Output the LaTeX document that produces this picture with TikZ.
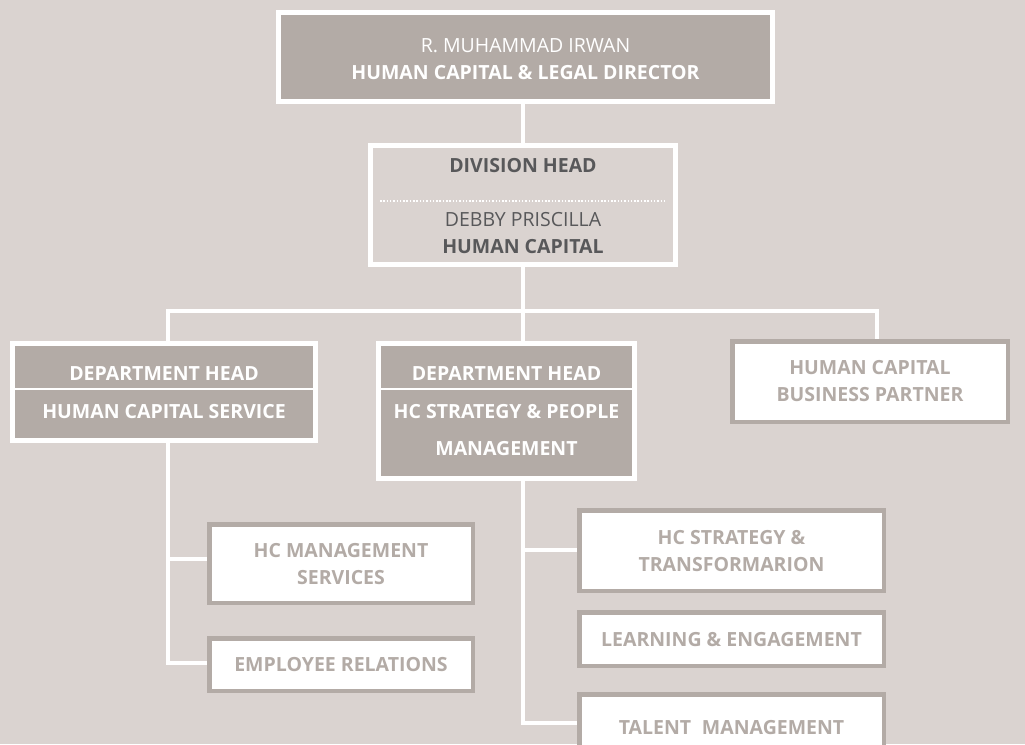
\documentclass[tikz,border=0pt]{standalone}
\usepackage{fontspec}
\setmainfont{Open Sans}
\definecolor{cbg}{HTML}{DAD3D0}
\definecolor{cdark}{HTML}{B3ABA6}
\definecolor{ctxt}{HTML}{58585A}
\pgfdeclarelayer{back}
\pgfdeclarelayer{lines}
\pgfsetlayers{back,lines,main}
\newcommand{\lblfont}{\fontsize{19.5}{22}\selectfont}
\tikzset{
  box/.style={rectangle, inner sep=0pt, outer sep=0pt, line width=5pt},
  darkbox/.style={box, draw=white, fill=cdark},
  openbox/.style={box, draw=white},
  lightbox/.style={box, draw=cdark, fill=white, line width=4.5pt},
  lbl/.style={inner sep=0pt, outer sep=0pt, font=\lblfont},
  wbold/.style={lbl, text=white, font=\lblfont\bfseries},
  wlight/.style={lbl, text=white},
  dbold/.style={lbl, text=ctxt, font=\lblfont\bfseries},
  dlight/.style={lbl, text=ctxt},
  gbold/.style={lbl, text=cdark, font=\lblfont\bfseries},
  link/.style={draw=white, line width=4pt, line join=miter},
  sepline/.style={draw=white, line width=2pt},
}
\begin{document}
\begin{tikzpicture}[x=1pt,y=-1pt]
\useasboundingbox (0,0) rectangle (1025,744);
\begin{pgfonlayer}{back}
  \fill[cbg] (0,0) rectangle (1025,744);
\end{pgfonlayer}

% top
\node[darkbox, minimum width=494, minimum height=89] (top) at (525.5,57) {};
\node[wlight] (topname) at (525.5,46) {R. MUHAMMAD IRWAN};
\node[wbold] (toptitle) at (525.5,73) {HUMAN CAPITAL \& LEGAL DIRECTOR};

% division
\node[openbox, minimum width=305, minimum height=119] (div) at (523,205) {};
\node[dbold] (divtitle) at (523,166) {DIVISION HEAD};
\draw[white, line width=1.5pt, dash pattern=on 1.5pt off 1.8pt] (380,201) -- (667,201);
\node[dlight] (divname) at (523,220) {DEBBY PRISCILLA};
\node[dbold] (divunit) at (523,247) {HUMAN CAPITAL};

% left department
\node[darkbox, minimum width=303, minimum height=97] (dl) at (164,392) {};
\draw[sepline] (dl.west |- 0,389) -- (dl.east |- 0,389);
\node[wbold] (dlt) at (164,374) {DEPARTMENT HEAD};
\node[wbold] (dln) at (164,412) {HUMAN CAPITAL SERVICE};

% middle department
\node[darkbox, minimum width=256, minimum height=135] (dm) at (506.5,411) {};
\draw[sepline] (dm.west |- 0,389) -- (dm.east |- 0,389);
\node[wbold] (dmt) at (506.5,374) {DEPARTMENT HEAD};
\node[wbold] (dmn1) at (506.5,412) {HC STRATEGY \& PEOPLE};
\node[wbold] (dmn2) at (506.5,449) {MANAGEMENT};

% business partner
\node[lightbox, minimum width=275.5, minimum height=80.5] (bp) at (870,381.5) {};
\node[gbold] (bp1) at (870,368) {HUMAN CAPITAL};
\node[gbold] (bp2) at (870,395) {BUSINESS PARTNER};

% left sub units
\node[lightbox, minimum width=263.5, minimum height=78.5] (hcm) at (341,563.5) {};
\node[gbold] (hcm1) at (341,551) {HC MANAGEMENT};
\node[gbold] (hcm2) at (341,578) {SERVICES};
\node[lightbox, minimum width=263.5, minimum height=52.5] (er) at (341,664.5) {};
\node[gbold] (er1) at (341,665) {EMPLOYEE RELATIONS};

% right sub units
\node[lightbox, minimum width=304.5, minimum height=80.5] (hcst) at (731.5,550.5) {};
\node[gbold] (hcst1) at (731.5,538) {HC STRATEGY \&};
\node[gbold] (hcst2) at (731.5,565) {TRANSFORMARION};
\node[lightbox, minimum width=304.5, minimum height=53.5] (le) at (731.5,639) {};
\node[gbold] (le1) at (731.5,640) {LEARNING \& ENGAGEMENT};
\node[lightbox, minimum width=304.5, minimum height=65.5] (tm) at (731.5,727) {};
\node[gbold] (tm1) at (731.5,728) {TALENT\hspace{0.55em}MANAGEMENT};

% connectors
\coordinate (jc) at (523,311);
\coordinate (jl) at (168,311);
\coordinate (jr) at (877,311);
\coordinate (la) at (168,559);
\coordinate (lb) at (168,663);
\coordinate (ma) at (523,550);
\coordinate (mb) at (523,723);
\begin{pgfonlayer}{lines}
  \draw[link] (jc |- top.south) -- (jc |- div.north);
  \draw[link] (jc |- div.south) -- (jc) -- (jc |- dm.north);
  \draw[link] (jl |- dl.north) -- (jl) -- (jr) -- (jr |- bp.north);
  \draw[link] (jl |- dl.south) -- (lb) -- (lb -| er.west);
  \draw[link] (la) -- (la -| hcm.west);
  \draw[link] (jc |- dm.south) -- (mb) -- (mb -| tm.west);
  \draw[link] (ma) -- (ma -| hcst.west);
\end{pgfonlayer}
\end{tikzpicture}
\end{document}
